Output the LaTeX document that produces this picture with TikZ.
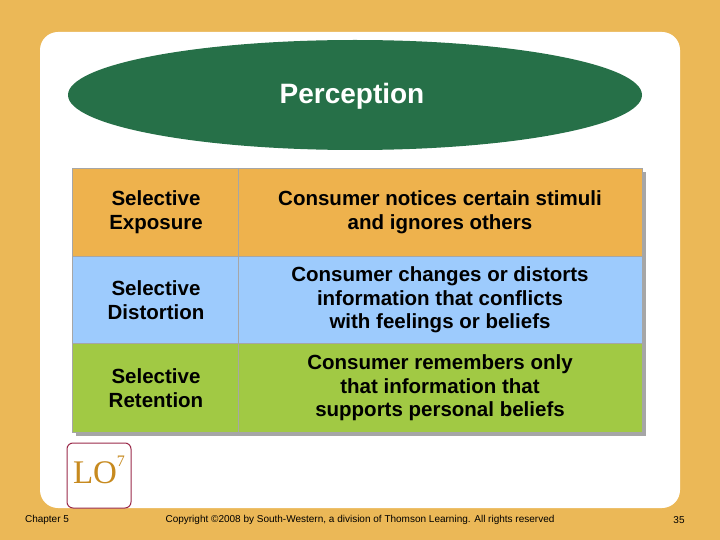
\documentclass[tikz,border=0pt]{standalone}
\usepackage{fontspec}
\setmainfont{Liberation Sans}
\newfontfamily\serifx{Liberation Serif}
\begin{document}
\begin{tikzpicture}[x=1pt,y=-1pt,
  cell/.style={draw=gray!70,line width=0.8pt},
  txt/.style={align=center,font=\fontsize{20.5}{23.5}\selectfont\bfseries,text=black},
  foot/.style={font=\fontsize{10}{11}\selectfont}]
\definecolor{bg}{HTML}{EBB857}
\definecolor{dg}{HTML}{267048}
\definecolor{orow}{HTML}{EEB24D}
\definecolor{brow}{HTML}{9DCBFD}
\definecolor{grow}{HTML}{A1C944}
\definecolor{lo}{HTML}{9B2B4B}
\definecolor{lot}{HTML}{C78A1F}
\useasboundingbox (0,0) rectangle (720,540);
\fill[bg] (0,0) rectangle (720,540);
\fill[white,rounded corners=18pt] (40,32) rectangle (680,508);
\fill[dg] (355,95) ellipse [x radius=287, y radius=55];
\node[font=\fontsize{28}{32}\selectfont\bfseries,text=white] (title) at (352,96) {Perception};
\fill[gray!70] (76,172) rectangle (646,436);
\draw[cell,fill=orow] (72,168) rectangle (642,256);
\draw[cell,fill=brow] (72,256) rectangle (642,343);
\draw[cell,fill=grow] (72,343) rectangle (642,432);
\draw[cell] (238,168) -- (238,432);
\node[txt] (a1) at (156,212) {Selective\\Exposure};
\node[txt] (b1) at (440,212) {Consumer notices certain stimuli\\and ignores others};
\node[txt] (a2) at (156,300) {Selective\\Distortion};
\node[txt] (b2) at (440,300) {Consumer changes or distorts\\information that conflicts\\with feelings or beliefs};
\node[txt] (a3) at (156,388) {Selective\\Retention};
\node[txt] (b3) at (440,388) {Consumer remembers only\\that information that\\supports personal beliefs};
\draw[lo,line width=1pt,rounded corners=6pt,fill=white] (67,443) rectangle (131,508);
\node[text=lot,font=\serifx\fontsize{33}{36}\selectfont] (lo) at (99,470) {LO\raisebox{1.1ex}{\fontsize{16}{16}\selectfont 7}};
\node[foot] (ch) at (47,520) {Chapter 5};
\node[foot] (cp) at (360,520) {Copyright \textcopyright 2008 by South-Western, a division of Thomson Learning.  All rights reserved};
\node[foot] (pg) at (679,520) {35};
\end{tikzpicture}
\end{document}
